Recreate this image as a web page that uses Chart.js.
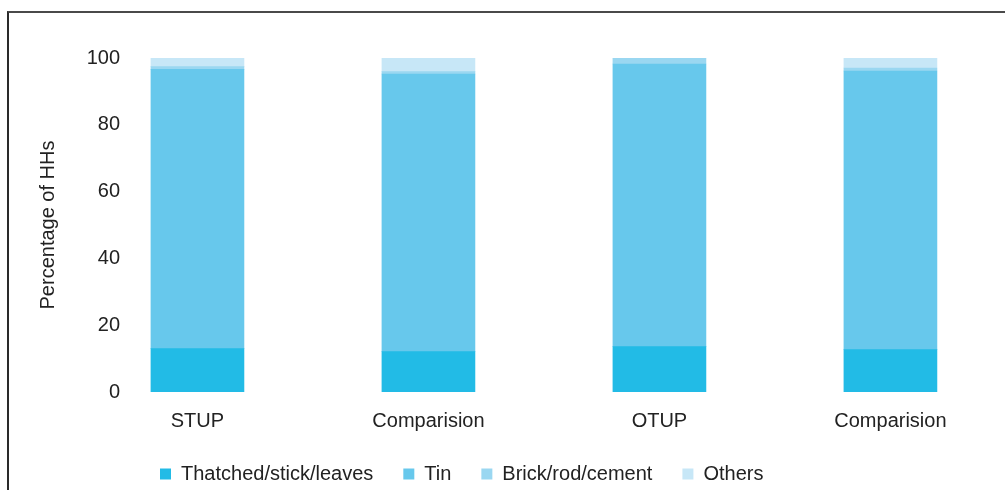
<!DOCTYPE html>
<html>
<head>
<meta charset="utf-8">
<script src="https://cdn.jsdelivr.net/npm/chart.js@4/dist/chart.umd.min.js"></script>
<style>
  body { margin: 0; background: #fff; overflow: hidden; }
  #wrap { position: relative; width: 1005px; height: 490px; overflow: hidden; }
  #frame { position: absolute; left: 7px; top: 11px; right: -5px; bottom: -5px;
           border-top: 2px solid #4a4a4a; border-left: 2px solid #2a2a2a; }
  canvas { position: absolute; left: 0; top: 0; }
</style>
</head>
<body>
<div id="wrap">
  <div id="frame"></div>
  <!-- canvas runs a little past the bottom of the frame, legend padding hangs off -->
  <canvas id="myChart" width="1005" height="520"></canvas>
</div>
<script>
// groups on the x axis
const categories = ['STUP', 'Comparision', 'OTUP', 'Comparision'];
// roof material, % of households
const thatched = [13.0, 12.1, 13.6, 12.7];
const tin = [83.6, 83.1, 84.6, 83.4];
const brick = [0.8, 0.7, 1.8, 0.9];
const others = [2.6, 4.1, 0.0, 3.0];
const yTicks = [0, 20, 40, 60, 80, 100];

const font = "'Liberation Sans', Arial, sans-serif";

function displayChart() {
    const ctx = document.getElementById('myChart').getContext('2d');

    const mk = (label, data, color) => ({
        label: label,
        data: data,
        backgroundColor: color,
        borderWidth: 0,
        barThickness: 93
    });

    new Chart(ctx, {
        type: 'bar',
        data: {
            labels: categories.map((c, i) => i),
            datasets: [
                mk('Thatched/stick/leaves', thatched, '#22bbe6'),
                mk('Tin', tin, '#67c8ec'),
                mk('Brick/rod/cement', brick, '#9ad7f1'),
                mk('Others', others, '#c7e7f7')
            ]
        },
        options: {
            responsive: false,
            animation: false,
            layout: { padding: { left: 30, right: 0, top: 58, bottom: 26 } },
            plugins: {
                tooltip: { enabled: false },
                legend: {
                    position: 'bottom',
                    align: 'start',
                    fullSize: false,
                    labels: {
                        boxWidth: 11,
                        boxHeight: 11,
                        padding: 30,
                        color: '#222',
                        font: { family: font, size: 20 }
                    }
                }
            },
            scales: {
                x: {
                    type: 'linear',
                    stacked: true,
                    offset: false,
                    min: -0.292,
                    max: 3.496,
                    grid: { display: false, drawTicks: false },
                    border: { display: false },
                    afterFit: s => { s.height = 42; },
                    ticks: {
                        stepSize: 1,
                        includeBounds: false,
                        padding: 17,
                        color: '#222',
                        font: { family: font, size: 20 },
                        callback: v => categories[v] ?? ''
                    }
                },
                y: {
                    stacked: true,
                    min: 0,
                    max: 100,
                    grid: { display: false, drawTicks: false },
                    border: { display: false },
                    afterFit: s => { s.width = 100; },
                    afterBuildTicks: s => { s.ticks = yTicks.map(v => ({ value: v })); },
                    ticks: {
                        padding: 10,
                        color: '#222',
                        font: { family: font, size: 20 }
                    },
                    title: {
                        display: true,
                        text: 'Percentage of HHs',
                        color: '#222',
                        padding: 6,
                        font: { family: font, size: 20 }
                    }
                }
            }
        }
    });
}

displayChart();
</script>
</body>
</html>
